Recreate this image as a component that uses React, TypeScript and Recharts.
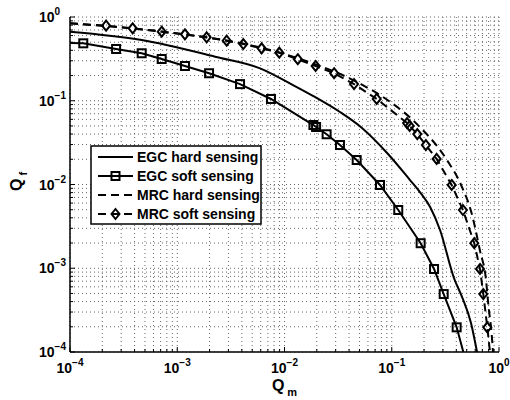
import React from 'react';
import { LineChart, Line, XAxis, YAxis, CartesianGrid } from 'recharts';

// Q_m (miss probability) / Q_f (false alarm probability)
const egcHardQm = [1e-4, 4.66e-4, 2.25e-3, 5.92e-3, 0.012, 0.0192, 0.0329, 0.0528, 0.0923, 0.148, 0.183, 0.228, 0.282, 0.38, 0.452, 0.548, 0.624];
const egcHardQf = [0.668, 0.531, 0.336, 0.244, 0.154, 0.111, 0.0734, 0.0473, 0.0231, 0.0113, 0.00813, 0.00538, 0.00286, 0.000765, 0.000454, 0.000222, 0.0001];

const egcSoftQm = [1e-4, 1.33e-4, 2.69e-4, 4.66e-4, 7.16e-4, 1.18e-3, 1.98e-3, 3.85e-3, 7.48e-3, 0.0186, 0.0197, 0.0247, 0.0329, 0.0471, 0.0777, 0.115, 0.186, 0.248, 0.305, 0.403, 0.465];
const egcSoftQf = [0.49, 0.485, 0.415, 0.369, 0.315, 0.26, 0.213, 0.158, 0.105, 0.0513, 0.0486, 0.0398, 0.0296, 0.0196, 0.00987, 0.00496, 0.00199, 0.00098, 0.000492, 0.000197, 0.0001];

const mrcHardQm = [1e-4, 1e-3, 5e-3, 0.0149, 0.0516, 0.0884, 0.168, 0.327, 0.443, 0.554, 0.665, 0.757, 0.798, 0.851, 0.879];
const mrcHardQf = [0.84, 0.635, 0.455, 0.307, 0.158, 0.105, 0.0541, 0.0196, 0.00987, 0.00459, 0.00162, 0.000723, 0.000351, 0.000174, 0.0001];

const mrcSoftQm = [1e-4, 2.17e-4, 3.84e-4, 7.16e-4, 1.18e-3, 1.88e-3, 2.89e-3, 4.13e-3, 6.12e-3, 8.94e-3, 0.0133, 0.0195, 0.029, 0.0445, 0.0724, 0.139, 0.147, 0.173, 0.208, 0.262, 0.362, 0.461, 0.588, 0.665, 0.714, 0.778, 0.824];
const mrcSoftQf = [0.84, 0.787, 0.733, 0.667, 0.621, 0.572, 0.521, 0.476, 0.423, 0.375, 0.313, 0.26, 0.213, 0.158, 0.105, 0.0542, 0.05, 0.04, 0.0296, 0.0202, 0.00987, 0.00496, 0.00199, 0.00098, 0.000492, 0.000197, 0.0001];

const legendNames = ['EGC hard sensing', 'EGC soft sensing', 'MRC hard sensing', 'MRC soft sensing'];

const decades = [1e-4, 1e-3, 1e-2, 1e-1, 1];
const minorSteps = [2, 3, 4, 5, 6, 7, 8, 9];

const gridTicks = decades.flatMap((d, i) =>
  i < decades.length - 1 ? [d, ...minorSteps.map(m => m * d)] : [d]
);

const toPoints = (xs: number[], ys: number[]) => xs.map((x, i) => ({ x, y: ys[i] }));

const egcHard = toPoints(egcHardQm, egcHardQf);
const egcSoft = toPoints(egcSoftQm, egcSoftQf);
const mrcHard = toPoints(mrcHardQm, mrcHardQf);
const mrcSoft = toPoints(mrcSoftQm, mrcSoftQf);

const FONT = '"Liberation Sans", Arial, Helvetica, sans-serif';
const DASH = '8 5';

const isMajor = (v: number) => Math.abs(Math.log10(v) - Math.round(Math.log10(v))) < 1e-6;
const expText = (v: number) => {
  const e = Math.round(Math.log10(v));
  return e < 0 ? `\u2212${-e}` : `${e}`;
};

const Power = ({ x, y, v, anchor }: any) => (
  <text x={x} y={y} textAnchor={anchor} fontFamily={FONT} fontWeight="bold" fontSize={14} fill="#000">
    <tspan>10</tspan>
    <tspan dy={-7} fontSize={10}>{expText(v)}</tspan>
  </text>
);

const BottomTick = ({ x, y, payload }: any) => {
  const major = isMajor(payload.value);
  return (
    <g>
      <line x1={x} x2={x} y1={y} y2={y - (major ? 5 : 3)} stroke="#000" />
      {major && <Power x={x} y={y + 21} v={payload.value} anchor="middle" />}
    </g>
  );
};

const TopTick = ({ x, y, payload }: any) => {
  const major = isMajor(payload.value);
  return <line x1={x} x2={x} y1={y} y2={y + (major ? 5 : 3)} stroke="#000" />;
};

const LeftTick = ({ x, y, payload }: any) => {
  const major = isMajor(payload.value);
  return (
    <g>
      <line x1={x} x2={x + (major ? 5 : 3)} y1={y} y2={y} stroke="#000" />
      {major && <Power x={x - 31} y={y + 5} v={payload.value} anchor="start" />}
    </g>
  );
};

const RightTick = ({ x, y, payload }: any) => {
  const major = isMajor(payload.value);
  return <line x1={x} x2={x - (major ? 5 : 3)} y1={y} y2={y} stroke="#000" />;
};

const Square = ({ cx, cy }: any) => (
  <rect x={cx - 4} y={cy - 4} width={8} height={8} fill="none" stroke="#000" strokeWidth={2} />
);

const Diamond = ({ cx, cy }: any) => (
  <polygon
    points={`${cx},${cy - 5} ${cx + 4},${cy} ${cx},${cy + 5} ${cx - 4},${cy}`}
    fill="none"
    stroke="#000"
    strokeWidth={2}
  />
);

// first and last points are where the curve meets the axes, no marker there
const markerDot = (Shape: any, count: number) => (props: any) => {
  const { index, cx, cy } = props;
  if (index === 0 || index === count - 1 || cx == null || cy == null) {
    return <g key={`m-${index}`} />;
  }
  return <Shape key={`m-${index}`} cx={cx} cy={cy} />;
};

const LegendBox = () => {
  const rows = [
    { dash: undefined, Shape: null },
    { dash: undefined, Shape: Square },
    { dash: DASH, Shape: null },
    { dash: DASH, Shape: Diamond },
  ];
  return (
    <svg
      width={172}
      height={80}
      style={{ position: 'absolute', left: 90, top: 145 }}
    >
      <rect x={1} y={1} width={170} height={78} fill="#fff" stroke="#000" strokeWidth={1.5} />
      {rows.map((r, i) => {
        const cy = 12 + i * 19;
        return (
          <g key={legendNames[i]}>
            <line x1={8} x2={43} y1={cy} y2={cy} stroke="#000" strokeWidth={2} strokeDasharray={r.dash} />
            {r.Shape && <r.Shape cx={25.5} cy={cy} />}
            <text x={47} y={cy + 5} fontFamily={FONT} fontWeight="bold" fontSize={14} fill="#000">
              {legendNames[i]}
            </text>
          </g>
        );
      })}
    </svg>
  );
};

const App = () => {
  return (
    <div style={{ position: 'absolute', left: 0, top: 0, width: 510, height: 400, background: '#fff' }}>
      <LineChart width={510} height={400} margin={{ top: 17, right: 11, bottom: 0, left: 0 }}>
        <CartesianGrid stroke="#666" strokeDasharray="1 3" />
        <XAxis
          type="number"
          dataKey="x"
          scale="log"
          domain={[1e-4, 1]}
          allowDataOverflow
          ticks={gridTicks}
          interval={0}
          height={48}
          tickSize={0}
          tickMargin={0}
          tick={<BottomTick />}
          axisLine={{ stroke: '#000', strokeWidth: 1.5 }}
          label={{
            content: ({ viewBox }: any) => (
              <text
                x={viewBox.x + viewBox.width / 2}
                y={viewBox.y + 39}
                textAnchor="middle"
                fontFamily={FONT}
                fontWeight="bold"
                fontSize={16}
                fill="#000"
              >
                <tspan>Q</tspan>
                <tspan dx={3} dy={5} fontSize={11}>m</tspan>
              </text>
            ),
          }}
        />
        <XAxis
          xAxisId="top"
          orientation="top"
          type="number"
          dataKey="x"
          scale="log"
          domain={[1e-4, 1]}
          allowDataOverflow
          ticks={gridTicks}
          interval={0}
          height={0}
          tickSize={0}
          tickMargin={0}
          tick={<TopTick />}
          axisLine={{ stroke: '#000', strokeWidth: 1.5 }}
        />
        <YAxis
          type="number"
          dataKey="y"
          scale="log"
          domain={[1e-4, 1]}
          allowDataOverflow
          ticks={gridTicks}
          interval={0}
          width={70}
          tickSize={0}
          tickMargin={0}
          tick={<LeftTick />}
          axisLine={{ stroke: '#000', strokeWidth: 1.5 }}
          label={{
            content: ({ viewBox }: any) => {
              const cy = viewBox.y + viewBox.height / 2 - 3;
              return (
                <text
                  transform={`translate(22, ${cy}) rotate(-90)`}
                  textAnchor="middle"
                  fontFamily={FONT}
                  fontWeight="bold"
                  fontSize={16}
                  fill="#000"
                >
                  <tspan>Q</tspan>
                  <tspan dx={3} dy={5} fontSize={11}>f</tspan>
                </text>
              );
            },
          }}
        />
        <YAxis
          yAxisId="right"
          orientation="right"
          type="number"
          dataKey="y"
          scale="log"
          domain={[1e-4, 1]}
          allowDataOverflow
          ticks={gridTicks}
          interval={0}
          width={0}
          tickSize={0}
          tickMargin={0}
          tick={<RightTick />}
          axisLine={{ stroke: '#000', strokeWidth: 1.5 }}
        />
        <Line data={egcHard} dataKey="y" type="monotone" stroke="#000" strokeWidth={2} dot={false} isAnimationActive={false} />
        <Line
          data={egcSoft}
          dataKey="y"
          type="linear"
          stroke="#000"
          strokeWidth={2}
          dot={markerDot(Square, egcSoft.length)}
          isAnimationActive={false}
        />
        <Line data={mrcHard} dataKey="y" type="monotone" stroke="#000" strokeWidth={2} strokeDasharray={DASH} dot={false} isAnimationActive={false} />
        <Line
          data={mrcSoft}
          dataKey="y"
          type="linear"
          stroke="#000"
          strokeWidth={2}
          strokeDasharray={DASH}
          dot={markerDot(Diamond, mrcSoft.length)}
          isAnimationActive={false}
        />
      </LineChart>
      <LegendBox />
    </div>
  );
};

export default App;
